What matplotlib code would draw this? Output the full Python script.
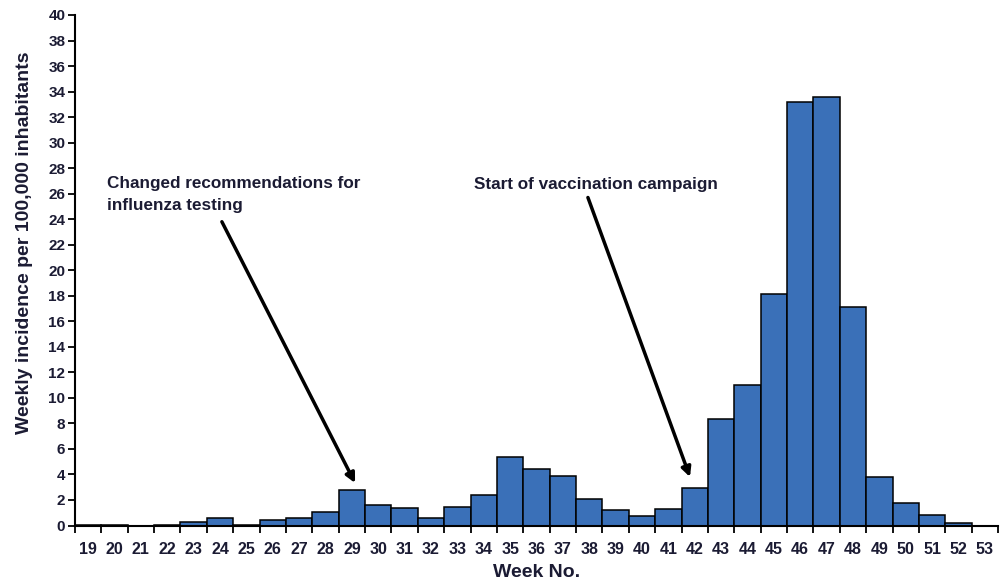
import numpy as np
import matplotlib
matplotlib.use("Agg")
import matplotlib.pyplot as plt

# weekly incidence per 100,000 inhabitants
weeks = list(range(19, 54))
incidence = [0.05, 0.05, 0.0, 0.05, 0.3, 0.6, 0.05, 0.45, 0.6, 1.05,
             2.75, 1.6, 1.35, 0.62, 1.47, 2.37, 5.4, 4.45, 3.9, 2.08,
             1.2, 0.78, 1.33, 2.9, 8.33, 11.0, 18.15, 33.15, 33.6, 17.15,
             3.8, 1.75, 0.8, 0.22, 0.0]

yticks = list(range(0, 41, 2))
ylabel = "Weekly incidence per 100,000 inhabitants"
xlabel = "Week No."
note1 = "Changed recommendations for\ninfluenza testing"
note2 = "Start of vaccination campaign"

txt = "#1b1b33"
plt.rcParams['font.family'] = ['Liberation Sans', 'DejaVu Sans']
plt.rcParams['font.weight'] = 'bold'

fig = plt.figure(figsize=(10.03, 5.81), dpi=100)
ax = fig.add_axes([75 / 1003, 1 - 525.5 / 581, 923 / 1003, 510.5 / 581])

ax.bar(weeks, incidence, width=1.0, color="#3a70b8", edgecolor="black", linewidth=1.1)

ax.set_xlim(18.5, 53.5)
ax.set_ylim(0, 40)
ax.set_yticks(yticks)
ax.set_xticks(weeks)
ax.set_xticks(np.arange(18.5, 54.0, 1.0), minor=True)
ax.tick_params(axis='x', which='major', length=0, pad=12, labelsize=11.5, labelcolor=txt)
ax.tick_params(axis='x', which='minor', length=5, width=1.3, direction='out')
ax.tick_params(axis='y', length=5, width=1.3, pad=2, labelsize=11, labelcolor=txt)
for s in ['top', 'right']:
    ax.spines[s].set_visible(False)
for s in ['left', 'bottom']:
    ax.spines[s].set_linewidth(1.5)

ax.set_ylabel(ylabel, fontsize=14, fontweight='bold', color=txt)
ax.yaxis.set_label_coords(-0.045, 0.553)
ax.set_xlabel(xlabel, fontsize=14, fontweight='bold', color=txt, labelpad=5)

arrow = dict(arrowstyle='-|>', color='black', lw=2.5, mutation_scale=14, shrinkA=0, shrinkB=0)
ax.annotate("", xy=(29.12, 3.33), xytext=(24.07, 23.8), arrowprops=arrow)
ax.annotate("", xy=(41.82, 3.8), xytext=(37.95, 25.7), arrowprops=arrow)
ax.text(19.71, 27.4, note1, fontsize=12.3, fontweight='bold', color=txt,
        va='top', ha='left', linespacing=1.6)
ax.text(33.63, 27.3, note2, fontsize=12.3, fontweight='bold', color=txt,
        va='top', ha='left')

fig.savefig("out.png", dpi=100)
